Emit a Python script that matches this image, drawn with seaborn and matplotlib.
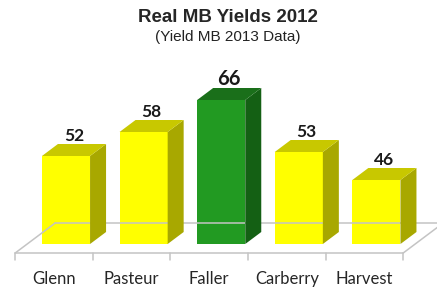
import matplotlib
matplotlib.use("Agg")
import matplotlib.pyplot as plt
import seaborn as sns
from matplotlib.transforms import IdentityTransform, ScaledTranslation
from matplotlib.patches import Polygon
from matplotlib.lines import Line2D

# ---- data ----
categories = ["Glenn", "Pasteur", "Faller", "Carberry", "Harvest"]
values = [52, 58, 66, 53, 46]
highlight = "Faller"
title = "Real MB Yields 2012"
subtitle = "(Yield MB 2013 Data)"

# ---- style ----
front_col = {"y": "#ffff00", "g": "#229a22"}
top_col = {"y": "#c8c800", "g": "#1a6f1a"}
side_col = {"y": "#a8a800", "g": "#146014"}
keys = ["g" if c == highlight else "y" for c in categories]

sns.set_theme(style="white")
plt.rcParams["font.family"] = ["Lato", "DejaVu Sans"]

W, H = 437, 289
fig = plt.figure(figsize=(W / 100, H / 100), dpi=100)
# axes = front plane of the bars
ax = fig.add_axes([27.2 / W, (H - 244) / H, 388 / W, 160 / H])

sns.barplot(x=categories, y=values, hue=categories,
            palette=[front_col[k] for k in keys], legend=False,
            width=0.62, saturation=1, ax=ax, zorder=3,
            edgecolor="none", linewidth=0)
ax.set_ylim(30, 70)
ax.set_xlim(-0.5, len(categories) - 0.5)
for s in ax.spines.values():
    s.set_visible(False)
ax.set_yticks([])
ax.set_xlabel("")
ax.set_ylabel("")
ax.patch.set_alpha(0)
ax.tick_params(axis="x", length=0, pad=19.5, labelsize=12, colors="#262626")
shift = ScaledTranslation(-12 / 100, 0, fig.dpi_scale_trans)
for lab in ax.get_xticklabels():
    lab.set_transform(lab.get_transform() + shift)

fig.canvas.draw()
T = ax.transData
ident = IdentityTransform()

# floor (parallelogram) : front offset (-12,-9), back offset (+28,+21) in px
gcol = "#c4c4c4"
x0d, x1d = -0.5, len(categories) - 0.5
L = T.transform((x0d, 30))
R = T.transform((x1d, 30))
fl = (L[0] - 12, L[1] - 9)
fr = (R[0] - 12, R[1] - 9)
bl = (L[0] + 28, L[1] + 21)
br = (R[0] + 28, R[1] + 21)
for a, b in [(fl, fr), (fl, bl), (fr, br), (bl, br)]:
    fig.add_artist(Line2D([a[0], b[0]], [a[1], b[1]], color=gcol, lw=1.1,
                          transform=ident, zorder=0.5))
# boundary ticks on front edge
for i in range(len(categories) + 1):
    p = T.transform((x0d + i, 30))
    fig.add_artist(Line2D([p[0] - 12, p[0] - 12], [p[1] - 9, p[1] - 16],
                          color=gcol, lw=1.1, transform=ident, zorder=0.5))

# 3D faces and value labels
dx, dy = 16, 12
for patch, k, v in zip(ax.patches, keys, values):
    x0 = patch.get_x()
    x1 = x0 + patch.get_width()
    p01 = T.transform((x0, v))
    p10 = T.transform((x1, 30))
    p11 = T.transform((x1, v))
    side = Polygon([p10, p11, (p11[0] + dx, p11[1] + dy), (p10[0] + dx, p10[1] + dy)],
                   closed=True, facecolor=side_col[k], edgecolor="none",
                   transform=ident, zorder=2)
    top = Polygon([p01, p11, (p11[0] + dx, p11[1] + dy), (p01[0] + dx, p01[1] + dy)],
                  closed=True, facecolor=top_col[k], edgecolor="none",
                  transform=ident, zorder=2)
    fig.add_artist(side)
    fig.add_artist(top)
    big = (k == "g")
    ax.annotate(str(v), xy=((x0 + x1) / 2, v), xytext=(8 * 0.72, 15 * 0.72),
                textcoords="offset points", ha="center", va="baseline",
                fontsize=14.5 if big else 12.5, fontweight="bold", color="#1a1a1a",
                annotation_clip=False)

fig.text(228 / W, 1 - 17 / H, title, ha="center", va="center",
         fontsize=13.5, fontweight="bold", family=["Liberation Sans", "DejaVu Sans"])
fig.text(228 / W, 1 - 37 / H, subtitle, ha="center", va="center",
         fontsize=11, family=["Liberation Sans", "DejaVu Sans"], color="#222222")

fig.savefig("out.png", dpi=100)
